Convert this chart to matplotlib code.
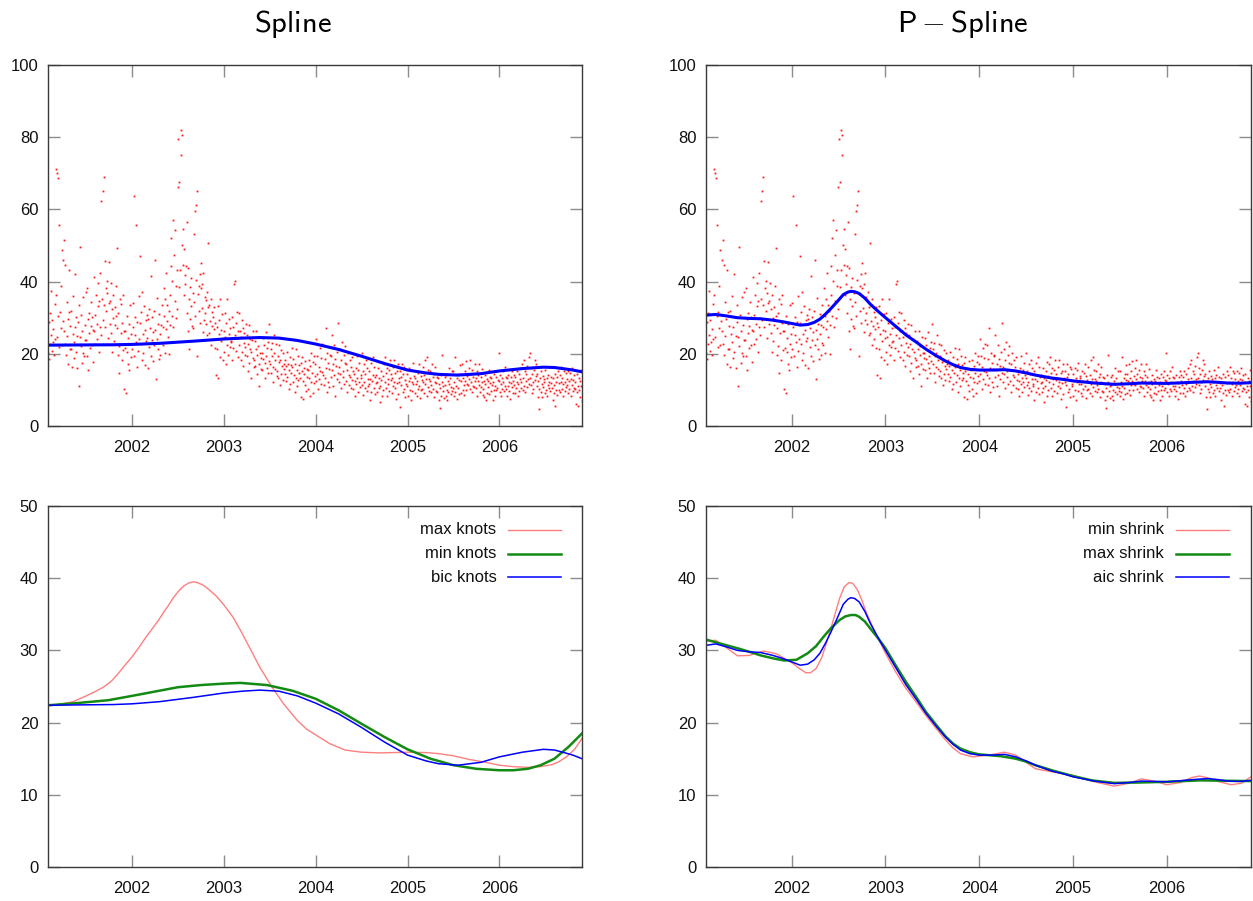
import numpy as np
import matplotlib
matplotlib.use('Agg')
import matplotlib.pyplot as plt

plt.rcParams['font.family'] = ['Liberation Sans', 'DejaVu Sans']
plt.rcParams['font.size'] = 12

# daily observations, Feb 2001 .. Nov 2006 (14 readings per month, one row per month)
obs_values = [
    # 2001
    20.3, 28.7, 18.5, 31.2, 22.6, 25.1, 37.4, 20.8, 29.5, 23.3, 26.9, 19.6, 33.8, 24.2,
    71.1, 36.3, 70.2, 24.7, 68.6, 30.4, 55.6, 21.9, 31.5, 27.2, 38.8, 22.4, 48.8, 29.1,
    46.1, 26.4, 51.4, 22.8, 44.6, 19.7, 34.3, 24.9, 29.6, 17.2, 43.2, 31.7, 21.4, 27.8,
    21.3, 31.8, 16.4, 25.5, 36.1, 23.2, 18.7, 27.4, 42.1, 20.6, 30.3, 24.8, 16.1, 28.9,
    33.4, 11.2, 24.6, 49.6, 22.1, 30.7, 17.5, 26.3, 20.2, 35.6, 19.3, 28.1, 23.7, 37.2,
    23.8, 38.3, 19.4, 29.7, 15.6, 25.9, 31.2, 21.5, 27.6, 34.4, 22.3, 30.2, 17.8, 26.5,
    26.2, 41.4, 30.8, 22.7, 36.2, 28.3, 24.1, 39.6, 33.3, 20.4, 34.7, 27.5, 42.3, 25.3,
    62.4, 35.2, 65.1, 29.4, 68.9, 33.6, 45.6, 27.3, 38.2, 31.9, 40.3, 36.8, 24.5, 34.1,
    45.4, 34.6, 28.2, 39.5, 25.7, 32.3, 20.5, 36.4, 29.8, 23.6, 33.1, 27.9, 38.7, 30.6,
    49.4, 27.1, 19.8, 31.3, 22.2, 14.8, 35.3, 25.8, 33.7, 18.4, 28.6, 36.2, 21.1, 26.4,
    10.2, 26.3, 21.7, 9.1, 30.4, 20.6, 24.5, 17.3, 28.2, 15.4, 22.8, 33.5, 19.2, 25.6,
    # 2002
    21.4, 34.2, 27.3, 63.8, 19.5, 30.1, 25.2, 55.8, 23.4, 16.3, 28.7, 20.8, 35.9, 24.1,
    47.2, 28.4, 22.6, 31.5, 18.2, 37.1, 25.6, 20.3, 33.2, 26.7, 16.8, 29.4, 23.5, 30.8,
    24.3, 29.6, 16.2, 32.4, 21.8, 27.2, 41.6, 19.4, 30.3, 23.7, 26.1, 17.9, 31.8, 22.5,
    45.9, 26.5, 13.1, 24.2, 35.4, 21.2, 28.3, 18.6, 31.1, 25.4, 19.7, 27.9, 22.9, 33.6,
    27.4, 22.3, 38.2, 30.6, 20.1, 35.2, 26.8, 42.4, 29.2, 33.5, 24.6, 31.9, 19.9, 28.1,
    36.3, 44.2, 52.1, 30.4, 40.2, 57.2, 27.3, 47.4, 34.6, 54.3, 29.8, 38.7, 43.1, 32.5,
    66.2, 79.6, 38.4, 67.5, 43.3, 82.1, 75.1, 80.6, 50.2, 44.6, 54.7, 36.2, 48.9, 41.7,
    39.3, 44.4, 31.2, 56.6, 26.4, 43.8, 35.1, 21.3, 38.5, 29.7, 33.2, 40.9, 27.6, 36.8,
    27.2, 53.1, 34.3, 59.6, 30.5, 61.2, 40.4, 65.1, 19.3, 36.6, 31.8, 38.9, 28.4, 42.2,
    38.3, 45.2, 32.6, 39.4, 26.1, 42.3, 29.5, 35.7, 31.4, 28.2, 34.8, 37.2, 25.3, 33.1,
    50.8, 25.7, 33.4, 29.2, 22.4, 35.3, 27.6, 31.5, 24.2, 30.3, 26.8, 32.9, 21.5, 28.5,
    14.2, 27.4, 21.3, 33.3, 13.2, 25.6, 29.4, 19.1, 35.2, 23.5, 26.7, 30.9, 18.3, 24.4,
    # 2003
    26.2, 20.4, 31.3, 24.6, 17.2, 28.4, 22.3, 35.1, 19.7, 25.5, 29.6, 21.8, 27.1, 23.2,
    23.6, 30.2, 18.4, 27.3, 21.5, 39.4, 25.2, 40.1, 20.7, 28.5, 24.3, 31.6, 19.2, 26.4,
    31.2, 22.5, 26.3, 18.2, 24.7, 29.3, 20.4, 16.6, 27.2, 23.1, 25.8, 19.7, 21.9, 28.3,
    19.4, 25.3, 15.2, 22.6, 28.1, 17.4, 21.3, 24.2, 13.3, 20.5, 23.7, 18.8, 26.4, 16.3,
    18.3, 23.5, 16.7, 21.2, 26.3, 14.4, 19.6, 22.1, 17.3, 11.2, 24.6, 20.3, 15.8, 18.9,
    20.2, 15.4, 24.3, 18.6, 22.4, 13.2, 17.5, 26.1, 19.3, 16.2, 21.7, 14.8, 23.2, 18.1,
    28.2, 17.3, 21.4, 14.6, 23.1, 19.5, 12.3, 16.4, 20.2, 25.3, 15.7, 18.4, 22.6, 13.9,
    15.2, 19.4, 13.3, 22.5, 17.6, 11.4, 18.2, 14.3, 21.1, 16.5, 12.7, 20.3, 15.8, 17.1,
    14.3, 18.2, 12.4, 16.6, 20.4, 13.5, 17.3, 10.2, 15.4, 19.1, 11.6, 16.9, 14.8, 21.7,
    16.4, 12.2, 18.6, 14.1, 9.3, 17.2, 13.4, 21.3, 15.5, 11.1, 19.4, 12.8, 16.9, 14.6,
    13.2, 17.4, 8.1, 15.3, 19.2, 12.5, 7.6, 16.2, 14.4, 11.3, 18.1, 9.7, 15.9, 13.7,
    15.6, 10.3, 18.4, 13.2, 8.4, 16.5, 12.1, 20.3, 14.7, 9.2, 17.6, 11.8, 19.4, 13.9,
    # 2004
    17.2, 12.4, 24.1, 14.3, 19.5, 10.2, 16.4, 13.1, 21.6, 15.3, 18.7, 11.6, 22.8, 14.9,
    14.2, 22.3, 11.4, 18.6, 13.3, 27.2, 16.1, 9.4, 20.3, 12.2, 17.5, 15.8, 10.7, 19.6,
    19.3, 13.6, 25.2, 15.4, 11.1, 17.3, 22.4, 14.2, 18.5, 8.3, 16.7, 12.9, 20.6, 14.8,
    28.6, 16.3, 12.2, 21.4, 14.5, 18.2, 10.4, 23.3, 15.1, 13.6, 19.8, 11.7, 17.4, 22.1,
    12.4, 17.2, 9.3, 15.6, 20.1, 11.3, 14.2, 18.4, 13.5, 16.3, 10.6, 19.2, 12.8, 15.1,
    10.3, 14.4, 8.2, 12.6, 16.1, 11.5, 19.3, 13.2, 9.4, 15.6, 12.1, 17.4, 10.8, 14.2,
    13.3, 20.2, 11.4, 15.2, 8.6, 12.3, 17.1, 10.5, 14.4, 18.3, 9.7, 16.2, 12.9, 11.2,
    11.6, 15.3, 7.2, 13.1, 17.4, 9.3, 12.5, 14.2, 19.1, 10.4, 16.3, 8.8, 13.7, 11.9,
    14.1, 9.5, 12.3, 16.2, 10.6, 13.4, 6.6, 11.2, 15.3, 12.7, 8.4, 17.6, 10.1, 13.8,
    17.3, 12.1, 19.2, 10.4, 14.6, 8.3, 16.2, 11.5, 13.1, 15.4, 9.6, 18.2, 12.7, 14.3,
    9.2, 13.4, 16.3, 11.1, 18.4, 12.2, 10.5, 14.6, 7.4, 15.2, 11.8, 17.1, 8.9, 13.3,
    12.3, 15.1, 5.2, 11.4, 13.6, 17.2, 9.3, 14.4, 10.2, 16.3, 8.1, 12.8, 15.7, 11.6,
    # 2005
    11.2, 14.3, 8.4, 12.6, 16.2, 10.1, 13.3, 7.2, 15.4, 12.1, 9.6, 17.4, 11.7, 13.9,
    13.4, 9.2, 11.6, 15.3, 8.2, 12.4, 10.3, 14.6, 17.2, 11.1, 7.8, 13.9, 9.9, 12.7,
    10.2, 16.4, 12.3, 9.1, 14.2, 11.5, 18.3, 13.1, 8.4, 19.2, 10.8, 15.6, 12.9, 9.7,
    12.6, 15.2, 9.3, 11.4, 17.1, 10.2, 13.5, 8.1, 14.3, 12.2, 16.4, 9.8, 11.9, 13.7,
    9.4, 13.2, 7.3, 11.6, 5.1, 10.4, 14.1, 8.2, 12.3, 19.6, 9.8, 11.1, 7.7, 13.6,
    11.3, 8.4, 14.2, 10.1, 7.2, 12.5, 9.3, 16.1, 11.6, 13.2, 8.8, 10.7, 15.3, 9.6,
    10.4, 15.2, 8.3, 12.1, 9.5, 19.1, 11.2, 7.4, 13.3, 10.6, 14.4, 8.9, 12.7, 16.8,
    14.3, 9.2, 12.5, 17.2, 10.1, 13.4, 8.6, 11.3, 15.2, 12.4, 18.1, 9.9, 13.8, 11.7,
    11.4, 16.2, 13.1, 18.3, 10.2, 14.5, 12.3, 9.4, 15.6, 11.2, 13.7, 10.8, 17.1, 12.6,
    13.2, 10.4, 15.3, 8.2, 12.6, 14.1, 11.3, 17.2, 9.4, 13.6, 10.9, 15.8, 12.1, 8.7,
    10.3, 12.4, 8.1, 14.2, 11.5, 7.3, 13.1, 9.2, 12.6, 10.7, 15.4, 8.8, 11.9, 13.7,
    9.6, 13.2, 11.4, 7.2, 12.3, 10.1, 14.5, 8.3, 11.2, 13.6, 9.9, 15.1, 10.6, 12.8,
    # 2006
    12.4, 20.2, 9.3, 14.1, 11.6, 8.2, 13.4, 10.3, 15.2, 12.1, 9.8, 16.4, 11.2, 13.7,
    10.2, 13.3, 8.4, 11.1, 14.2, 9.6, 12.3, 7.4, 11.8, 13.6, 10.7, 15.1, 9.2, 12.6,
    14.1, 11.3, 9.2, 13.5, 10.4, 15.3, 12.2, 8.3, 11.6, 14.4, 9.8, 16.2, 12.9, 10.6,
    12.2, 17.3, 10.1, 13.4, 18.2, 11.2, 9.4, 15.1, 12.6, 14.3, 10.8, 16.6, 13.1, 11.7,
    19.2, 13.4, 20.1, 11.3, 16.2, 9.1, 14.4, 12.2, 10.3, 15.6, 18.4, 12.8, 17.1, 13.9,
    11.2, 14.3, 8.1, 12.4, 4.6, 10.3, 13.2, 9.4, 15.1, 11.6, 7.9, 13.8, 10.7, 12.9,
    12.3, 9.2, 15.4, 10.1, 13.3, 8.2, 11.4, 14.2, 10.6, 12.1, 16.3, 9.7, 13.6, 11.8,
    10.4, 13.2, 7.1, 11.3, 9.2, 14.4, 5.6, 12.3, 10.1, 13.6, 8.7, 15.2, 11.8, 9.9,
    14.2, 9.4, 12.1, 16.3, 10.2, 13.4, 8.3, 11.6, 15.1, 12.3, 9.8, 14.7, 10.9, 13.1,
    11.3, 15.2, 9.1, 12.4, 10.3, 14.6, 8.2, 13.1, 11.4, 16.2, 9.7, 12.8, 14.1, 10.6,
    10.2, 12.3, 6.1, 14.4, 9.3, 11.2, 5.6, 13.4, 10.1, 12.6, 7.9, 15.6, 11.1, 6.8,
]
x_start, x_end = 2001.085, 2006.9
obs_x = np.linspace(x_start, x_end, len(obs_values))

# spline fits (decimal year, value)
bic_x = [2001.085, 2001.4, 2001.8, 2002.0, 2002.3, 2002.67, 2003.0, 2003.2, 2003.39, 2003.6,
         2003.8, 2004.0, 2004.25, 2004.49, 2004.75, 2005.0, 2005.2, 2005.34, 2005.55, 2005.8,
         2006.0, 2006.25, 2006.48, 2006.6, 2006.69, 2006.8, 2006.9]
bic_y = [22.4, 22.45, 22.5, 22.6, 22.9, 23.5, 24.1, 24.35, 24.5, 24.35,
         23.7, 22.7, 21.2, 19.4, 17.3, 15.5, 14.7, 14.3, 14.1, 14.5,
         15.25, 15.9, 16.3, 16.2, 15.9, 15.5, 15.0]

minknots_x = [2001.085, 2001.4, 2001.74, 2002.0, 2002.25, 2002.5, 2002.75, 2003.0, 2003.18, 2003.47,
              2003.75, 2004.0, 2004.25, 2004.49, 2004.75, 2005.0, 2005.25, 2005.5, 2005.75, 2006.0,
              2006.15, 2006.31, 2006.45, 2006.6, 2006.75, 2006.9]
minknots_y = [22.4, 22.7, 23.1, 23.7, 24.3, 24.9, 25.2, 25.4, 25.5, 25.2,
              24.4, 23.3, 21.7, 19.9, 18.0, 16.3, 15.0, 14.1, 13.6, 13.4,
              13.4, 13.6, 14.1, 15.0, 16.6, 18.5]

maxknots_x = [2001.085, 2001.2, 2001.36, 2001.5, 2001.6, 2001.7, 2001.78, 2001.85, 2001.92, 2002.0,
              2002.08, 2002.15, 2002.22, 2002.29, 2002.35, 2002.4, 2002.45, 2002.5, 2002.56, 2002.62,
              2002.67, 2002.72, 2002.78, 2002.84, 2002.92, 2003.0, 2003.1, 2003.18, 2003.28, 2003.39,
              2003.52, 2003.65, 2003.8, 2003.9, 2004.0, 2004.15, 2004.32, 2004.5, 2004.7, 2005.0,
              2005.2, 2005.34, 2005.5, 2005.67, 2005.85, 2006.0, 2006.15, 2006.31, 2006.45, 2006.58,
              2006.65, 2006.73, 2006.82, 2006.9]
maxknots_y = [22.4, 22.5, 22.9, 23.7, 24.3, 25.0, 25.8, 26.8, 27.9, 29.1,
              30.5, 31.8, 33.0, 34.2, 35.4, 36.3, 37.3, 38.1, 38.9, 39.35,
              39.5, 39.35, 39.0, 38.4, 37.5, 36.3, 34.6, 32.8, 30.4, 27.7,
              25.0, 22.6, 20.3, 19.1, 18.3, 17.1, 16.2, 15.9, 15.8, 15.9,
              15.85, 15.7, 15.4, 14.9, 14.5, 14.1, 13.9, 13.8, 13.9, 14.2,
              14.6, 15.25, 16.3, 17.8]

aic_x = [2001.085, 2001.19, 2001.3, 2001.42, 2001.55, 2001.67, 2001.8, 2001.9, 2002.0, 2002.09,
         2002.17, 2002.24, 2002.3, 2002.36, 2002.42, 2002.49, 2002.55, 2002.6, 2002.63, 2002.67,
         2002.72, 2002.78, 2002.84, 2002.92, 2003.0, 2003.11, 2003.22, 2003.33, 2003.43, 2003.54,
         2003.64, 2003.72, 2003.8, 2003.9, 2004.0, 2004.15, 2004.27, 2004.39, 2004.5, 2004.6,
         2004.77, 2004.9, 2005.0, 2005.23, 2005.44, 2005.6, 2005.73, 2006.0, 2006.15, 2006.27,
         2006.44, 2006.55, 2006.65, 2006.78, 2006.9]
aic_y = [30.7, 30.9, 30.5, 30.0, 29.8, 29.7, 29.3, 28.9, 28.4, 27.95,
         28.1, 28.7, 29.6, 31.0, 32.6, 34.6, 36.4, 37.1, 37.3, 37.2,
         36.7, 35.4, 33.7, 31.8, 30.0, 27.6, 25.2, 23.2, 21.3, 19.5,
         18.0, 17.0, 16.2, 15.7, 15.5, 15.5, 15.6, 15.25, 14.7, 14.1,
         13.3, 12.9, 12.5, 11.9, 11.55, 11.7, 11.9, 11.8, 11.95, 12.1,
         12.25, 12.1, 11.9, 11.85, 12.0]

maxshrink_x = [2001.085, 2001.25, 2001.42, 2001.55, 2001.67, 2001.8, 2001.92, 2002.05, 2002.17, 2002.26,
               2002.34, 2002.42, 2002.51, 2002.57, 2002.63, 2002.68, 2002.72, 2002.78, 2002.84, 2002.92,
               2003.0, 2003.11, 2003.22, 2003.33, 2003.43, 2003.54, 2003.64, 2003.72, 2003.8, 2003.9,
               2004.0, 2004.23, 2004.39, 2004.5, 2004.6, 2004.8, 2005.0, 2005.2, 2005.44, 2005.7,
               2006.0, 2006.36, 2006.6, 2006.9]
maxshrink_y = [31.5, 30.9, 30.3, 29.8, 29.3, 28.9, 28.6, 28.7, 29.6, 30.6,
               31.9, 33.1, 34.2, 34.7, 34.9, 34.9, 34.65, 34.0, 33.0, 31.7,
               30.3, 27.9, 25.6, 23.5, 21.5, 19.7, 18.1, 17.1, 16.4, 15.9,
               15.6, 15.35, 15.0, 14.6, 14.1, 13.3, 12.6, 12.0, 11.65, 11.7,
               11.8, 12.0, 11.95, 11.9]

minshrink_x = [2001.085, 2001.19, 2001.3, 2001.42, 2001.55, 2001.63, 2001.71, 2001.84, 2002.0, 2002.08,
               2002.15, 2002.2, 2002.26, 2002.32, 2002.38, 2002.45, 2002.51, 2002.56, 2002.61, 2002.65,
               2002.7, 2002.75, 2002.8, 2002.9, 2003.0, 2003.11, 2003.22, 2003.33, 2003.43, 2003.54,
               2003.64, 2003.72, 2003.8, 2003.93, 2004.1, 2004.27, 2004.39, 2004.5, 2004.6, 2004.77,
               2005.0, 2005.23, 2005.44, 2005.6, 2005.73, 2005.87, 2006.0, 2006.15, 2006.27, 2006.35,
               2006.44, 2006.56, 2006.69, 2006.8, 2006.9]
minshrink_y = [31.3, 31.4, 30.4, 29.25, 29.3, 29.7, 29.9, 29.5, 28.3, 27.5,
               26.9, 26.9, 27.5, 29.0, 31.4, 34.5, 37.2, 38.8, 39.4, 39.3,
               38.4, 36.9, 35.1, 32.2, 29.6, 27.0, 24.7, 22.8, 21.0, 19.2,
               17.6, 16.5, 15.7, 15.25, 15.5, 15.9, 15.5, 14.5, 13.6, 13.2,
               12.7, 11.8, 11.2, 11.6, 12.2, 11.9, 11.4, 11.7, 12.4, 12.6,
               12.35, 11.8, 11.4, 11.6, 12.5]

year_ticks = [2002, 2003, 2004, 2005, 2006]
top_yticks = [0, 20, 40, 60, 80, 100]
bottom_yticks = [0, 10, 20, 30, 40, 50]

RED = '#ff0000'
PINK = '#ff7f7f'
GREEN = '#138a13'
BLUE = '#0000ff'

W, H = 1253, 901
fig = plt.figure(figsize=(W / 100, H / 100), dpi=100)


def make_axes(left, top, right, bottom):
    ax = fig.add_axes([left / W, 1 - bottom / H, (right - left) / W, (bottom - top) / H])
    ax.set_xlim(x_start, x_end)
    ax.set_xticks(year_ticks)
    ax.set_xticklabels([str(y) for y in year_ticks])
    ax.tick_params(direction='in', length=8.6, width=1, color='#8c8c8c',
                   top=True, right=True, labelsize=12, labelcolor='#111111')
    ax.tick_params(axis='x', pad=10)
    ax.tick_params(axis='y', pad=7)
    for s in ax.spines.values():
        s.set_color('#3a3a3a')
        s.set_linewidth(1.0)
    return ax


ax1 = make_axes(48, 65, 582, 426)
ax2 = make_axes(706, 65, 1251, 426)
ax3 = make_axes(48, 506, 582, 867)
ax4 = make_axes(706, 506, 1251, 867)

for ax, fx, fy in [(ax1, bic_x, bic_y), (ax2, aic_x, aic_y)]:
    ax.plot(obs_x, obs_values, 's', color=RED, ms=1.3, mew=0, alpha=0.9)
    ax.plot(fx, fy, color=BLUE, lw=2.2)
    ax.set_ylim(0, 100)
    ax.set_yticks(top_yticks)


def curves(ax, series):
    for label, xs, ys, color, lw in series:
        ax.plot(xs, ys, color=color, lw=lw)
    # gnuplot-like key: text right aligned, then the line sample
    for i, (label, xs, ys, color, lw) in enumerate(series):
        yk = 0.934 - i * 0.066
        ax.plot([0.862, 0.960], [yk, yk], color=color, lw=lw, transform=ax.transAxes)
        ax.text(0.840, yk, label, ha='right', va='center', fontsize=12,
                color='#111111', transform=ax.transAxes)
    ax.set_ylim(0, 50)
    ax.set_yticks(bottom_yticks)


curves(ax3, [('max knots', maxknots_x, maxknots_y, PINK, 1.0),
             ('min knots', minknots_x, minknots_y, GREEN, 1.8),
             ('bic knots', bic_x, bic_y, BLUE, 1.1)])
curves(ax4, [('min shrink', minshrink_x, minshrink_y, PINK, 1.0),
             ('max shrink', maxshrink_x, maxshrink_y, GREEN, 1.8),
             ('aic shrink', aic_x, aic_y, BLUE, 1.1)])

fig.text(293 / W, 1 - 32 / H, r'$\mathsf{Spline}$', fontsize=22, ha='center',
         va='baseline', math_fontfamily='cm')
fig.text(963 / W, 1 - 32 / H, r'$\mathsf{P-Spline}$', fontsize=22, ha='center',
         va='baseline', math_fontfamily='cm')

fig.savefig('out.png', dpi=100)
